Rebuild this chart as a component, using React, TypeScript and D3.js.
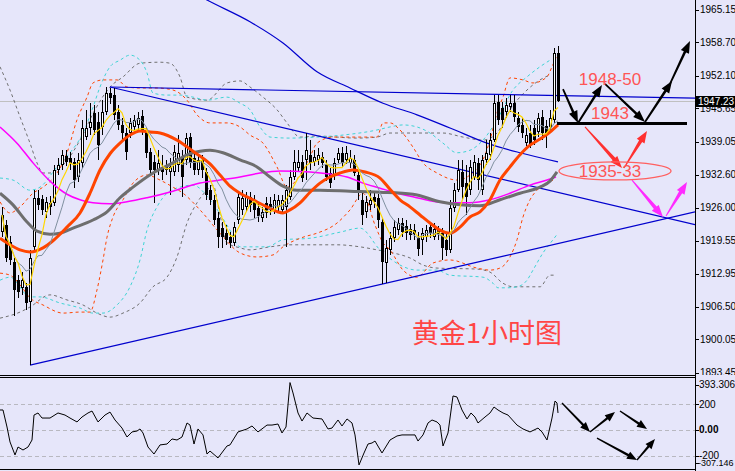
import React from "react";
import * as d3 from "d3";

const W = 735;
const H = 471;
const PLOT_R = 695;
const MAIN_B = 375;

// candles: [open, high, low, close], one per hour bar
const candles: number[][] = [
  [1921.2, 1926.2, 1920.2, 1924.6], [1922.6, 1923.6, 1915.3, 1916.1], [1919.3, 1920.4, 1914.7, 1915.7],
  [1915.3, 1916.1, 1904.6, 1909.8], [1911.7, 1912.7, 1908.2, 1909.4], [1910.2, 1913.3, 1908.8, 1911.7],
  [1910.4, 1911.1, 1905.8, 1907.2], [1907.4, 1917.7, 1894.9, 1916.1], [1918.3, 1929.5, 1917.7, 1928.0],
  [1928.0, 1929.5, 1925.6, 1926.6], [1927.8, 1928.5, 1924.6, 1925.6], [1925.2, 1928.2, 1924.0, 1927.2],
  [1927.0, 1928.3, 1924.6, 1926.2], [1927.0, 1934.5, 1926.4, 1933.5], [1933.5, 1935.9, 1932.5, 1934.5],
  [1934.5, 1937.4, 1933.5, 1936.5], [1936.3, 1937.4, 1934.3, 1935.1], [1935.9, 1937.0, 1933.5, 1934.9],
  [1935.1, 1935.9, 1929.9, 1931.5], [1932.1, 1936.9, 1931.1, 1935.5], [1934.9, 1943.4, 1933.9, 1941.8],
  [1940.0, 1945.4, 1939.4, 1941.8], [1941.8, 1946.7, 1940.4, 1943.0], [1944.8, 1946.3, 1940.4, 1941.4],
  [1943.0, 1945.0, 1935.5, 1938.4], [1942.0, 1947.3, 1940.4, 1945.0], [1945.0, 1949.9, 1944.4, 1948.7],
  [1948.7, 1949.7, 1946.5, 1947.7], [1948.3, 1949.7, 1943.4, 1944.4], [1945.0, 1946.3, 1941.4, 1942.4],
  [1942.4, 1943.8, 1939.4, 1940.8], [1940.8, 1941.8, 1935.5, 1937.0], [1940.8, 1943.8, 1939.8, 1942.8],
  [1942.0, 1944.4, 1941.4, 1943.4], [1942.4, 1945.0, 1941.4, 1943.8], [1944.2, 1945.4, 1940.4, 1941.4],
  [1941.0, 1941.8, 1935.9, 1936.9], [1937.0, 1937.8, 1932.5, 1933.5], [1935.1, 1936.5, 1927.0, 1933.5],
  [1933.5, 1937.4, 1932.5, 1934.9], [1934.1, 1936.5, 1931.5, 1933.1], [1934.3, 1935.5, 1932.5, 1933.5],
  [1933.1, 1935.9, 1928.5, 1934.1], [1933.1, 1938.4, 1932.3, 1937.0], [1934.5, 1940.4, 1933.1, 1936.9],
  [1935.9, 1937.4, 1928.2, 1932.1], [1935.5, 1940.8, 1934.5, 1939.8], [1940.0, 1940.8, 1933.9, 1934.9],
  [1935.9, 1936.9, 1932.5, 1933.5], [1933.5, 1936.5, 1932.5, 1935.5], [1935.5, 1936.5, 1931.9, 1933.5],
  [1933.1, 1933.9, 1927.6, 1928.5], [1929.5, 1930.5, 1926.6, 1927.6], [1927.6, 1928.5, 1922.6, 1923.6],
  [1924.0, 1925.2, 1918.1, 1920.2], [1922.0, 1923.2, 1918.1, 1920.2], [1921.0, 1922.6, 1918.7, 1919.7],
  [1920.2, 1921.2, 1918.1, 1919.1], [1919.1, 1923.2, 1918.5, 1922.2], [1923.6, 1929.1, 1922.8, 1928.2],
  [1925.6, 1929.5, 1924.6, 1928.0], [1926.2, 1929.1, 1925.2, 1928.2], [1928.2, 1929.1, 1925.2, 1926.6],
  [1927.6, 1928.5, 1924.0, 1925.6], [1926.0, 1927.0, 1923.2, 1924.4], [1924.0, 1926.2, 1923.2, 1925.2],
  [1927.0, 1928.2, 1924.0, 1925.0], [1926.8, 1928.2, 1924.6, 1925.6], [1925.6, 1928.7, 1924.8, 1927.6],
  [1926.2, 1928.5, 1925.2, 1927.6], [1925.6, 1928.5, 1924.8, 1927.6], [1926.2, 1930.5, 1918.3, 1929.5],
  [1928.2, 1933.5, 1927.6, 1932.1], [1932.1, 1937.4, 1931.5, 1935.1], [1933.9, 1937.4, 1933.1, 1935.1],
  [1935.1, 1936.5, 1931.1, 1931.9], [1935.5, 1940.8, 1931.5, 1937.4], [1936.5, 1939.4, 1933.5, 1934.9],
  [1935.1, 1937.4, 1934.3, 1936.1], [1935.5, 1937.8, 1934.5, 1936.5], [1936.1, 1937.0, 1933.9, 1934.9],
  [1934.5, 1935.5, 1931.3, 1932.1], [1932.9, 1933.9, 1929.9, 1930.9], [1932.5, 1935.9, 1931.5, 1934.9],
  [1935.5, 1937.8, 1934.9, 1936.9], [1936.9, 1938.0, 1934.1, 1934.9], [1935.5, 1938.2, 1934.7, 1936.9],
  [1934.9, 1937.4, 1933.9, 1935.9], [1935.5, 1936.5, 1932.3, 1932.9], [1932.5, 1933.5, 1927.6, 1929.1],
  [1927.6, 1928.9, 1922.6, 1924.6], [1925.2, 1928.3, 1924.0, 1927.2], [1926.6, 1929.5, 1925.6, 1927.6],
  [1928.2, 1929.1, 1926.0, 1927.2], [1928.0, 1928.7, 1922.0, 1923.6], [1923.2, 1924.0, 1910.9, 1915.3],
  [1915.1, 1919.7, 1911.1, 1918.1], [1917.7, 1921.2, 1916.7, 1920.0], [1920.0, 1923.6, 1919.3, 1922.2],
  [1921.6, 1924.0, 1920.6, 1923.0], [1923.0, 1924.0, 1920.2, 1921.2], [1922.4, 1923.6, 1919.7, 1921.0],
  [1921.8, 1922.8, 1919.7, 1920.6], [1921.6, 1922.8, 1919.7, 1920.8], [1920.0, 1921.2, 1916.5, 1917.9],
  [1919.7, 1922.0, 1916.7, 1921.0], [1920.2, 1922.6, 1919.3, 1921.6], [1922.2, 1923.2, 1920.0, 1921.0],
  [1920.2, 1923.0, 1919.7, 1921.8], [1921.6, 1922.4, 1919.7, 1920.8], [1921.0, 1922.0, 1915.7, 1918.1],
  [1919.7, 1921.2, 1916.5, 1917.7], [1917.7, 1927.6, 1917.1, 1926.0], [1926.0, 1930.9, 1925.2, 1929.5],
  [1929.5, 1935.5, 1929.1, 1933.5], [1933.1, 1935.5, 1927.6, 1930.1], [1930.9, 1934.5, 1924.6, 1928.2],
  [1929.5, 1935.5, 1928.5, 1934.1], [1932.1, 1936.5, 1931.5, 1935.1], [1934.9, 1935.9, 1929.5, 1931.5],
  [1929.5, 1936.5, 1928.5, 1935.5], [1935.5, 1939.4, 1934.5, 1936.9], [1936.5, 1940.8, 1935.5, 1939.4],
  [1939.4, 1948.3, 1939.0, 1946.7], [1946.9, 1948.3, 1942.4, 1943.4], [1945.7, 1946.9, 1941.8, 1943.4],
  [1945.0, 1947.7, 1943.8, 1946.3], [1945.9, 1948.3, 1945.0, 1946.7], [1946.7, 1948.3, 1943.0, 1944.0],
  [1943.8, 1945.0, 1941.0, 1942.0], [1942.4, 1943.8, 1939.8, 1940.8], [1938.8, 1941.8, 1938.2, 1940.4],
  [1940.8, 1942.4, 1937.8, 1938.4], [1941.8, 1943.4, 1938.4, 1939.4], [1941.0, 1944.8, 1940.0, 1943.8],
  [1944.0, 1945.4, 1939.4, 1940.8], [1942.2, 1943.4, 1937.8, 1940.8], [1942.0, 1945.4, 1941.4, 1943.8],
  [1943.4, 1957.6, 1942.8, 1956.6], [1956.6, 1958.0, 1946.9, 1947.23],
];

// slow averages: [bar, price]
const maOrange = [
  [-0.5, 1920.0], [2, 1918.7], [4.5, 1917.7], [7, 1917.3], [10.25, 1918.1], [12.75, 1919.5], [16.25, 1922.2],
  [19.5, 1925.0], [22, 1928.9], [24.5, 1933.5], [27, 1936.7], [29.5, 1938.8], [32, 1940.4], [34.5, 1941.2],
  [37, 1941.0], [39.5, 1940.8], [43.75, 1939.4], [47.75, 1937.2], [52, 1934.7], [54.5, 1932.5], [57, 1930.3],
  [59.5, 1928.9], [62.75, 1927.6], [66.25, 1926.2], [70.25, 1925.0], [72, 1925.6], [74.5, 1927.0], [77, 1929.1],
  [79.5, 1930.9], [82, 1932.1], [84.5, 1932.9], [87.75, 1933.5], [90.75, 1933.1], [94.5, 1931.9], [97, 1929.7],
  [99.5, 1927.6], [102, 1926.2], [104.5, 1924.6], [107, 1923.0], [109.5, 1921.6], [112, 1921.0], [114.5, 1922.2],
  [117, 1924.2], [119.5, 1925.2], [122, 1927.6], [124.5, 1931.5], [127, 1934.1], [129.5, 1936.5], [132, 1938.4],
  [134.5, 1939.6], [137, 1941.0], [139, 1942.4],
];
const maGrayThick = [
  [-0.5, 1928.9], [2.75, 1926.6], [6.25, 1923.2], [8.75, 1921.4], [12, 1920.8], [14.5, 1921.0], [17.75, 1922.0],
  [22.75, 1923.6], [26.25, 1925.2], [29.5, 1928.0], [32.75, 1930.1], [37.75, 1932.9], [42.75, 1934.9],
  [46.25, 1936.5], [49.5, 1937.2], [52, 1937.4], [55.25, 1936.9], [59.5, 1935.5], [63.75, 1934.1], [67, 1932.1],
  [70.25, 1930.3], [73.75, 1929.5], [79.5, 1929.5], [87, 1929.3], [94.5, 1929.1], [102.75, 1928.7],
  [109.5, 1927.2], [114.5, 1926.6], [119.5, 1926.4], [124.5, 1927.6], [129.5, 1928.9], [134.5, 1930.1],
  [137, 1931.3], [138.75, 1933.1],
];
const maMagenta = [
  [-0.5, 1942.0], [3.75, 1938.8], [7.75, 1934.9], [12, 1931.3], [16.25, 1928.7], [19.5, 1927.6], [22.75, 1927.0],
  [27, 1926.8], [31.25, 1927.2], [36.25, 1928.0], [42.75, 1929.3], [49.5, 1930.9], [54.5, 1931.5], [59.5, 1932.1],
  [64.5, 1932.9], [69.5, 1933.3], [77, 1933.1], [82, 1932.7], [86.25, 1932.1], [90.25, 1930.9], [94.5, 1929.9],
  [98.75, 1928.9], [102.75, 1928.2], [107, 1927.4], [112, 1927.0], [117, 1927.0], [122, 1927.6], [127, 1928.9],
  [132, 1930.5], [136.25, 1931.5], [138.5, 1932.1],
];
const maBlue = [
  [48, 1968.5], [51.25, 1967.1], [62, 1962.8], [70.25, 1958.6], [78.75, 1952.9], [87, 1949.7], [95.25, 1946.7],
  [103.75, 1944.4], [112, 1941.8], [121.25, 1938.8], [129.5, 1936.9], [139, 1935.1],
];

// band lines (dotted)
const orangeUpper = [
  [-0.5, 1927.2], [2, 1925.0], [4.5, 1926.2], [7.75, 1928.9], [10.25, 1930.1], [13.75, 1932.9], [16.25, 1936.9],
  [18.75, 1943.4], [21.25, 1947.9], [22.75, 1950.7], [25.25, 1951.3], [28.75, 1951.3], [31.25, 1949.9],
  [34.5, 1949.7], [38.75, 1949.7], [42.75, 1949.3], [46.25, 1947.3], [48.75, 1944.4], [52, 1942.8],
  [56.25, 1942.8], [59.5, 1942.0], [62, 1940.4], [65.25, 1938.8], [68.75, 1934.1], [71.25, 1930.1],
  [74.5, 1932.5], [77, 1936.1], [78.75, 1938.8], [82.75, 1940.0], [89.5, 1940.0], [93.75, 1940.0],
  [95.25, 1942.8], [97, 1942.8], [99.5, 1941.4], [102.75, 1938.0], [105.25, 1934.9], [108.75, 1932.9],
  [113.75, 1931.5], [117, 1932.5], [120.25, 1935.5], [122, 1939.4], [123.75, 1944.8], [125.25, 1947.9],
  [127, 1951.7], [130.25, 1951.3], [132.75, 1950.7], [136.25, 1951.9], [137.5, 1953.9], [138.75, 1956.2],
];
const orangeLower = [
  [-0.5, 1913.1], [2, 1912.7], [4.5, 1910.8], [7, 1908.2], [10.25, 1906.8], [15.25, 1905.2], [19.5, 1905.4],
  [22, 1905.4], [23.75, 1909.8], [25.25, 1915.7], [26.25, 1920.2], [27.75, 1924.2], [30.25, 1927.6],
  [32.75, 1930.9], [36.25, 1932.5], [39.5, 1931.5], [42.75, 1930.1], [45.25, 1928.9], [49.5, 1925.6],
  [54.5, 1921.0], [59.5, 1917.1], [63.75, 1916.3], [67.75, 1916.7], [70.25, 1918.3], [75.25, 1920.2],
  [78.75, 1921.0], [83.75, 1923.0], [87, 1925.6], [90.25, 1928.9], [93.25, 1922.6], [95.25, 1919.1],
  [97, 1917.7], [100.25, 1913.7], [103.75, 1912.3], [107.75, 1915.1], [112, 1915.7], [118.75, 1914.1],
  [122, 1913.7], [124.5, 1914.1], [127, 1916.3], [128.75, 1919.7], [130.25, 1924.2], [132, 1927.6],
  [133.75, 1929.5], [136.25, 1930.9], [137.75, 1931.5],
];
const cyanUpper = [
  [-0.5, 1931.9], [2.75, 1931.5], [7, 1929.5], [9.5, 1930.1], [13.75, 1934.1], [17, 1936.9], [20.25, 1940.8],
  [22.75, 1945.9], [24.5, 1949.9], [27, 1953.9], [29.5, 1955.2], [32, 1956.2], [34.5, 1955.2], [36.25, 1952.7],
  [37.75, 1948.7], [41.25, 1948.3], [44.5, 1948.3], [47.75, 1947.9], [51.25, 1947.3], [56.25, 1947.9],
  [59.5, 1946.7], [62, 1945.4], [64.5, 1942.0], [67, 1940.0], [72, 1939.8], [78.75, 1940.0], [85.25, 1940.4],
  [93.75, 1941.4], [97, 1942.0], [100.25, 1942.4], [103.75, 1942.0], [107, 1940.8], [110.25, 1938.8],
  [113.75, 1936.9], [117, 1937.4], [120.25, 1939.4], [123.75, 1943.4], [127.75, 1949.3], [131.25, 1951.9],
  [134.5, 1953.9], [137, 1955.2],
];
const cyanLower = [
  [-0.5, 1911.7], [2, 1912.3], [7, 1908.4], [9.5, 1908.4], [14.5, 1907.2], [19.5, 1906.2], [22.75, 1905.2],
  [25.25, 1905.2], [28.75, 1906.8], [32, 1910.4], [34.5, 1915.7], [36.25, 1921.6], [38.75, 1926.2],
  [41.25, 1928.9], [44.5, 1930.1], [47.75, 1930.5], [52, 1927.6], [57, 1921.6], [59.5, 1918.3], [62.75, 1918.3],
  [66.25, 1918.3], [70.25, 1919.7], [77, 1920.0], [84.5, 1921.2], [89.5, 1922.0], [94.5, 1917.7],
  [99.5, 1914.7], [103.75, 1913.7], [108.75, 1913.7], [112, 1912.7], [120.25, 1912.3], [122.75, 1911.1],
  [124, 1910.2], [126.25, 1910.2], [128.75, 1910.4], [131.25, 1911.7], [132.75, 1913.7], [135.25, 1917.1],
  [137.75, 1919.7], [139, 1921.0],
];
const grayUpper = [
  [-0.5, 1953.9], [2, 1949.3], [4.5, 1944.0], [7, 1938.8], [8.75, 1934.9], [10.25, 1932.9], [12, 1932.9],
  [15.75, 1934.9], [19.5, 1939.4], [23.25, 1945.4], [27, 1949.9], [30.25, 1951.9], [34.5, 1954.6],
  [39.5, 1954.8], [42, 1954.6], [44.5, 1951.9], [46.25, 1947.9], [51.25, 1947.3], [56.25, 1950.7],
  [59.5, 1951.1], [62, 1949.9], [65.25, 1947.9], [68.75, 1945.4], [71.25, 1942.8], [74.5, 1940.0],
  [78.75, 1940.2], [88.75, 1939.8], [93.75, 1940.0], [97, 1940.8], [105.25, 1940.8], [110.25, 1940.8],
  [115.25, 1940.0], [120.25, 1939.4], [123.75, 1940.8], [127, 1945.4], [131.25, 1949.3], [134.5, 1951.3],
  [137, 1952.3],
];
const grayLower = [
  [-0.5, 1904.2], [4.5, 1905.4], [7, 1906.4], [12, 1908.8], [16.25, 1907.8], [20.25, 1906.8], [23.75, 1905.2],
  [27, 1904.4], [30.25, 1905.2], [34.5, 1907.2], [37.75, 1910.4], [41.25, 1912.3], [43.75, 1916.3],
  [46.25, 1923.0], [48.75, 1927.0], [51.25, 1929.5], [52.75, 1930.5], [54.5, 1924.6], [56.25, 1919.1],
  [59.5, 1918.1], [62, 1917.7], [67, 1918.3], [72, 1918.7], [83.75, 1918.7], [89.5, 1918.3], [93.75, 1917.7],
  [97.75, 1917.1], [102, 1916.1], [105.25, 1914.7], [108.75, 1914.1], [118.75, 1913.9], [122, 1913.3],
  [125.25, 1911.1], [127.75, 1910.4], [134.5, 1910.4], [137, 1912.7], [138.25, 1912.7],
];

// trend lines: [bar, price] endpoints
const trendDown = [[27, 1949.9], [173.25, 1922.7]];
const trendFlat = [[27, 1949.9], [173.25, 1947.7]];
const trendUp = [[7, 1894.9], [173.25, 1925.2]];

const lastPrice = 1947.23;
const priceTicks = [1965.15, 1958.7, 1952.1, 1945.65, 1939.05, 1932.6, 1926.0, 1919.55, 1912.95, 1906.5, 1900.05, 1893.45];

// lower window oscillator: [bar, value]
const cci = [
  [-0.5, 154], [0.25, 154], [1.25, 23], [2, -92], [3.25, -192], [4, -131], [5.25, -154], [6.5, -131], [7.5, -77],
  [8, 115], [9, 131], [10, 92], [12, 92], [14, 131], [15.75, 115], [17, 92], [18.75, 62], [20, 100], [21.5, 131],
  [22.5, 146], [24, 62], [25.75, 115], [27, 138], [28.25, 77], [30, 15], [31.25, -54], [32.5, -15], [33.75, -8],
  [34.5, 8], [35.25, -23], [36.5, -131], [38, -185], [39.5, -115], [41.25, -108], [42.5, -69], [43.75, -77],
  [45, -54], [46.25, 54], [47, 38], [48, -108], [49, 8], [50.25, -38], [51.25, -185], [52, -162], [54, -215],
  [56.25, -123], [57, -115], [59, -15], [61.25, 8], [62.5, 31], [64, -15], [66.25, 38], [67.5, 38], [69, 46],
  [70, -23], [71, 23], [72, 365], [72.75, 285], [74, 131], [75, 69], [76.25, 131], [77.75, 92], [80, 85],
  [81.5, 8], [82.5, 15], [84, 77], [85, 31], [86.25, 85], [87.5, 54], [88.25, -38], [89.25, -269], [90.5, -177],
  [91.5, -108], [92.5, -100], [93.25, -85], [95, -177], [97, -77], [98.75, -46], [100, -38], [103.25, -38],
  [104, -85], [105.25, -38], [106.5, 54], [107.5, 77], [108.75, 62], [109.5, 38], [110.25, -123], [111.5, -23],
  [112.75, 262], [113.75, 254], [115, 154], [116.25, 85], [117.25, 131], [118.25, 100], [119, 54], [120.75, 100],
  [122, 131], [123, 177], [124, 154], [125.25, 131], [126.5, 115], [128.75, 38], [130.25, 8], [132, -15],
  [134, 15], [135, -15], [136.25, -77], [137.5, 92], [138.25, 223], [138.75, 208], [139, 131],
];
const cciTicks = [
  { v: 393.306, label: "393.306", dy: 6 },
  { v: 200, label: "200", dy: 0 },
  { v: 0, label: "0.00", dy: 0 },
  { v: -200, label: "-200", dy: 0 },
  { v: -307.146, label: "-307.146", dy: -7 },
];
const cciLevels = [200, 0, -200];

// hand drawn forecast
const supportLevel = { price: 1942.7, from: 138.75, to: 171.25 };
const blackArrows = [
  [140.25, 1949.5, 144, 1942.8], [144, 1942.8, 150, 1950.3], [150.75, 1950.5, 160.75, 1943.0],
  [160.75, 1943.0, 167.5, 1951.1], [167, 1950.5, 172, 1959.0],
];
const redArrows = [[145.75, 1942.0, 155, 1933.9], [155.5, 1933.9, 161.25, 1941.2]];
const magentaArrows = [[157.5, 1931.5, 165.25, 1924.2], [166, 1924.4, 171.25, 1931.1]];
const subArrows = [
  [140, 208, 147, -15], [147, -15, 153.25, 138], [154.5, 146, 161.25, 8],
  [148.75, -62, 158.75, -231], [158.75, -231, 163.25, -69],
];
const levelLabels = [
  { text: "1948-50", bar: 152, price: 1951.4 },
  { text: "1943", bar: 152, price: 1944.7 },
  { text: "1935-33", bar: 152, price: 1933.2 },
];
const ringCenter = { bar: 153.25, price: 1933.3 };
const title = "黄金1小时图";

const xScale = d3.scaleLinear().domain([0, 139]).range([2, 558]);
const yScale = d3.scaleLinear().domain([1893.0, 1967.1]).range([374.8, 0]);
const ySub = d3.scaleLinear().domain([-307.146, 393.306]).range([469.9, 378.9]);

const closes = candles.map((d) => d[3]);
const sma = (n: number) =>
  closes.map((_, i) => [i, d3.mean(closes.slice(Math.max(0, i - n + 1), i + 1)) as number]);
const maYellow = sma(5);
const maGrayThin = sma(10);

const smooth = d3
  .line<number[]>()
  .x((d) => xScale(d[0]))
  .y((d) => yScale(d[1]))
  .curve(d3.curveMonotoneX);
const straight = d3
  .line<number[]>()
  .x((d) => xScale(d[0]))
  .y((d) => yScale(d[1]));
const subLine = d3
  .line<number[]>()
  .x((d) => xScale(d[0]))
  .y((d) => ySub(d[1]));

function arrowPoints(x0: number, y0: number, x1: number, y1: number, hl: number, hw: number, w0: number, w1: number) {
  const len = Math.hypot(x1 - x0, y1 - y0);
  const ux = (x1 - x0) / len;
  const uy = (y1 - y0) / len;
  const nx = -uy;
  const ny = ux;
  const bx = x1 - ux * hl;
  const by = y1 - uy * hl;
  const pts = [
    [x0 + nx * w0, y0 + ny * w0],
    [bx + nx * w1, by + ny * w1],
    [bx + nx * hw, by + ny * hw],
    [x1, y1],
    [bx - nx * hw, by - ny * hw],
    [bx - nx * w1, by - ny * w1],
    [x0 - nx * w0, y0 - ny * w0],
  ];
  return pts.map((p) => p.map((v) => v.toFixed(1)).join(",")).join(" ");
}

const axisFont = "'Liberation Sans', Arial, sans-serif";

export default function App() {
  const lastY = Math.round(yScale(lastPrice)) + 0.5;
  return (
    <div style={{ position: "absolute", left: 0, top: 0 }}>
      <svg width={W} height={H} style={{ display: "block", background: "#e6e6fa" }}>
        <defs>
          <clipPath id="mainClip">
            <rect x={0} y={0} width={PLOT_R} height={MAIN_B} />
          </clipPath>
          <clipPath id="subClip">
            <rect x={0} y={378} width={PLOT_R} height={92} />
          </clipPath>
          <clipPath id="axisClip">
            <rect x={PLOT_R} y={0} width={W - PLOT_R} height={MAIN_B} />
          </clipPath>
        </defs>

        <g clipPath="url(#mainClip)">
          {/* current price line */}
          <line x1={0} x2={PLOT_R} y1={lastY} y2={lastY} stroke="#c0c0c0" />

          {/* bands */}
          {[grayUpper, grayLower].map((d, i) => (
            <path key={`g${i}`} d={smooth(d) ?? ""} fill="none" stroke="#707070" strokeDasharray="3,3" />
          ))}
          {[cyanUpper, cyanLower].map((d, i) => (
            <path key={`c${i}`} d={smooth(d) ?? ""} fill="none" stroke="#3fd4d4" strokeDasharray="3,3" />
          ))}
          {[orangeUpper, orangeLower].map((d, i) => (
            <path key={`o${i}`} d={smooth(d) ?? ""} fill="none" stroke="#ff4500" strokeDasharray="3,3" />
          ))}

          {/* trend lines */}
          <path d={smooth(maBlue) ?? ""} fill="none" stroke="#0000cd" strokeWidth={1.2} />
          {[trendDown, trendFlat, trendUp].map((d, i) => (
            <path key={`t${i}`} d={straight(d) ?? ""} fill="none" stroke="#0000cd" strokeWidth={1.2} />
          ))}

          {/* candles */}
          {candles.map(([o, h, l, c], i) => {
            const cx = xScale(i);
            const yO = Math.round(yScale(o));
            const yC = Math.round(yScale(c));
            const top = Math.min(yO, yC);
            const bot = Math.max(yO, yC);
            const bull = c >= o;
            return (
              <g key={i}>
                <line x1={cx + 0.5} x2={cx + 0.5} y1={Math.round(yScale(h))} y2={Math.round(yScale(l))} stroke="#000" />
                {bull ? (
                  <rect x={cx - 0.5} y={top + 0.5} width={2} height={Math.max(bot - top - 1, 0)} fill="#fff" stroke="#000" />
                ) : (
                  <rect x={cx - 1} y={top} width={3} height={Math.max(bot - top, 1)} fill="#000" />
                )}
              </g>
            );
          })}

          {/* moving averages */}
          <path d={smooth(maMagenta) ?? ""} fill="none" stroke="#ff00ff" strokeWidth={1.5} />
          <path d={smooth(maGrayThick) ?? ""} fill="none" stroke="#6e6e6e" strokeWidth={3} />
          <path d={smooth(maOrange) ?? ""} fill="none" stroke="#ff4500" strokeWidth={3} />
          <path d={straight(maGrayThin) ?? ""} fill="none" stroke="#8090a0" strokeWidth={1} />
          <path d={straight(maYellow) ?? ""} fill="none" stroke="#ffd700" strokeWidth={1.2} />

          {/* forecast drawing */}
          <line
            x1={xScale(supportLevel.from)}
            x2={xScale(supportLevel.to)}
            y1={yScale(supportLevel.price)}
            y2={yScale(supportLevel.price)}
            stroke="#000"
            strokeWidth={3}
          />
          {blackArrows.map(([b0, p0, b1, p1], i) => (
            <polygon key={`ba${i}`} points={arrowPoints(xScale(b0), yScale(p0), xScale(b1), yScale(p1), 12, 4.5, 0.9, 1.3)} fill="#000" />
          ))}
          {redArrows.map(([b0, p0, b1, p1], i) => (
            <polygon key={`ra${i}`} points={arrowPoints(xScale(b0), yScale(p0), xScale(b1), yScale(p1), 12, 4.5, 0.5, 1.8)} fill="#ff3030" />
          ))}
          {magentaArrows.map(([b0, p0, b1, p1], i) => (
            <polygon key={`ma${i}`} points={arrowPoints(xScale(b0), yScale(p0), xScale(b1), yScale(p1), 12, 4.5, 0.5, 1.8)} fill="#ff2bff" />
          ))}
          <ellipse cx={xScale(ringCenter.bar)} cy={yScale(ringCenter.price)} rx={56} ry={9} fill="none" stroke="#ff6060" strokeWidth={1.3} />
          {levelLabels.map((t) => (
            <text
              key={t.text}
              x={xScale(t.bar)}
              y={yScale(t.price)}
              textAnchor="middle"
              dominantBaseline="central"
              fontFamily={axisFont}
              fontSize={17}
              fill="#ff5555"
            >
              {t.text}
            </text>
          ))}
          <text x={412} y={343} fontFamily="'Noto Sans CJK SC', sans-serif" fontSize={27} fill="#ff4646">
            {title}
          </text>
        </g>

        {/* oscillator window */}
        <g clipPath="url(#subClip)">
          {cciLevels.map((v) => (
            <line key={v} x1={0} x2={PLOT_R} y1={Math.round(ySub(v)) + 0.5} y2={Math.round(ySub(v)) + 0.5} stroke="#b8b8c0" strokeDasharray="4,3" />
          ))}
          <path d={subLine(cci) ?? ""} fill="none" stroke="#000" strokeWidth={1} />
          {subArrows.map(([b0, v0, b1, v1], i) => (
            <polygon key={`sa${i}`} points={arrowPoints(xScale(b0), ySub(v0), xScale(b1), ySub(v1), 10, 4, 0.7, 1.2)} fill="#000" />
          ))}
        </g>

        {/* frames */}
        <line x1={0} x2={PLOT_R} y1={375.5} y2={375.5} stroke="#000" />
        <line x1={0} x2={PLOT_R} y1={377.5} y2={377.5} stroke="#000" />
        <line x1={0} x2={PLOT_R} y1={469.5} y2={469.5} stroke="#000" />
        <line x1={PLOT_R + 0.5} x2={PLOT_R + 0.5} y1={0} y2={H} stroke="#000" />

        {/* price axis */}
        <g clipPath="url(#axisClip)">
          {priceTicks.map((p) => {
            const y = yScale(p);
            return (
              <g key={p}>
                <line x1={PLOT_R} x2={PLOT_R + 4} y1={Math.round(y) + 0.5} y2={Math.round(y) + 0.5} stroke="#000" />
                <text x={700} y={y} dominantBaseline="central" fontFamily={axisFont} fontSize={10} fill="#000">
                  {p.toFixed(2)}
                </text>
              </g>
            );
          })}
        </g>
        <rect x={PLOT_R + 1} y={lastY - 5.5} width={W - PLOT_R - 1} height={11} fill="#000" />
        <text x={698} y={lastY} dominantBaseline="central" fontFamily={axisFont} fontSize={10} fill="#fff">
          {lastPrice.toFixed(2)}
        </text>

        {/* oscillator axis */}
        {cciTicks.map((t) => {
          const y = ySub(t.v) + t.dy;
          const long = t.label.length > 7;
          return (
            <g key={t.label}>
              <line x1={PLOT_R} x2={PLOT_R + 4} y1={Math.round(y) + 0.5} y2={Math.round(y) + 0.5} stroke="#000" />
              <text
                x={long ? 698 : 699}
                y={y}
                dominantBaseline="central"
                fontFamily={axisFont}
                fontSize={long ? 9 : 10}
                fontWeight={t.v === 0 ? "bold" : "normal"}
                fill="#000"
              >
                {t.label}
              </text>
            </g>
          );
        })}
      </svg>
    </div>
  );
}
